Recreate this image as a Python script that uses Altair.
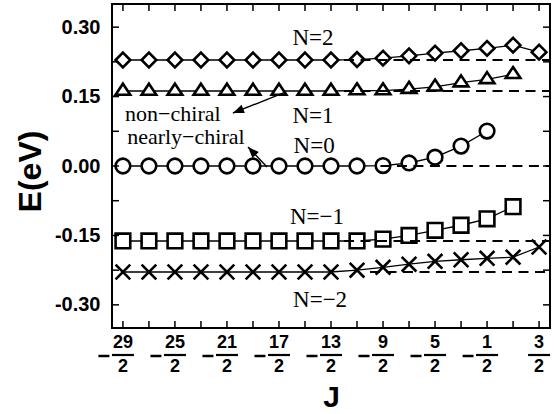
import math
import altair as alt
import pandas as pd

# ---------------- data ----------------
J_VALUES = [-14.5, -13.5, -12.5, -11.5, -10.5, -9.5, -8.5, -7.5, -6.5,
            -5.5, -4.5, -3.5, -2.5, -1.5, -0.5, 0.5, 1.5]

E_N2 = [0.229, 0.229, 0.229, 0.229, 0.229, 0.229, 0.229, 0.229, 0.229,
        0.230, 0.233, 0.238, 0.244, 0.249, 0.254, 0.261, 0.246]
E_N1 = [0.162, 0.162, 0.162, 0.162, 0.162, 0.162, 0.162, 0.162, 0.162,
        0.163, 0.163, 0.166, 0.171, 0.180, 0.187, 0.198]
E_N0 = [0.000, 0.000, 0.000, 0.000, 0.000, 0.000, 0.000, 0.000, 0.000,
        0.000, 0.001, 0.0065, 0.019, 0.043, 0.0755]
E_NM1 = [-0.162, -0.162, -0.162, -0.162, -0.162, -0.162, -0.162, -0.162, -0.162,
         -0.162, -0.158, -0.150, -0.139, -0.128, -0.114, -0.088]
E_NM2 = [-0.229, -0.229, -0.229, -0.229, -0.229, -0.229, -0.229, -0.229, -0.229,
         -0.225, -0.219, -0.212, -0.206, -0.2025, -0.1995, -0.197, -0.175]

SERIES = ["N=2", "N=1", "N=0", "N=-1", "N=-2"]
SERIES_VALUES = [E_N2, E_N1, E_N0, E_NM1, E_NM2]
SHAPES = ["diamond", "M0,-1L1,0.5L-1,0.5Z", "circle", "square", "M-1,-1L1,1M-1,1L1,-1"]
SIZES = [215, 215, 120, 92, 165]

# dashed reference levels
REF_E = [0.229, 0.162, 0.0, -0.162, -0.229]
REF_START = [-6.0, -6.0, -4.6, -6.0, -5.0]

# level labels
LAB_TEXT = ["N=2", "N=1", "N=0", "N=\u22121", "N=\u22122"]
LAB_J = [-7.19, -7.19, -7.15, -7.04, -6.92]
LAB_E = [0.276, 0.108, 0.043, -0.111, -0.289]

# annotations
ANN_TEXT = ["non\u2212chiral", "nearly\u2212chiral"]
ANN_J = [-12.58, -12.08]
ANN_E = [0.112, 0.063]
ARR_TAIL_J = [-8.23, -8.96]
ARR_TAIL_E = [0.160, -0.002]
ARR_HEAD_J = [-10.27, -9.69]
ARR_HEAD_E = [0.1145, 0.041]

# axis ticks / labels
X_TICKS = J_VALUES
Y_TICKS = [-0.30, -0.225, -0.15, -0.075, 0.0, 0.075, 0.15, 0.225, 0.30]
Y_LABELS = [-0.30, -0.15, 0.0, 0.15, 0.30]
FRAC_J = [-14.5, -12.5, -10.5, -8.5, -6.5, -4.5, -2.5, -0.5, 1.5]
FRAC_NUM = ["29", "25", "21", "17", "13", "9", "5", "1", "3"]
FRAC_DEN = ["2", "2", "2", "2", "2", "2", "2", "2", "2"]
FRAC_NEG = [True, True, True, True, True, True, True, True, False]

# ---------------- layout ----------------
XMIN, XMAX = -14.92, 1.92
YMIN, YMAX = -0.35, 0.35
W, H = 438, 324
TICK = 7

rows = []
for name, vals in zip(SERIES, SERIES_VALUES):
    for j, e in zip(J_VALUES, vals):
        rows.append({"series": name, "J": j, "E": e})
df = pd.DataFrame(rows)

df_ref = pd.DataFrame({"E": REF_E, "J": REF_START, "J2": [XMAX] * len(REF_E)})
df_lab = pd.DataFrame({"t": LAB_TEXT, "J": LAB_J, "E": LAB_E})
df_ann = pd.DataFrame({"t": ANN_TEXT, "J": ANN_J, "E": ANN_E})

sx = W / (XMAX - XMIN)
sy = H / (YMAX - YMIN)
angles = []
for tj, te, hj, he in zip(ARR_TAIL_J, ARR_TAIL_E, ARR_HEAD_J, ARR_HEAD_E):
    dx = (hj - tj) * sx
    dy = -(he - te) * sy
    angles.append(math.degrees(math.atan2(dx, -dy)) % 360)
df_arr = pd.DataFrame({"J": ARR_TAIL_J, "E": ARR_TAIL_E, "J2": ARR_HEAD_J,
                       "E2": ARR_HEAD_E, "ang": angles})

df_xt = pd.DataFrame({"J": X_TICKS})
df_yt = pd.DataFrame({"E": Y_TICKS})
df_frac = pd.DataFrame({"J": FRAC_J, "num": FRAC_NUM, "den": FRAC_DEN, "neg": FRAC_NEG})

XS = alt.Scale(domain=[XMIN, XMAX], nice=False, zero=False)
YS = alt.Scale(domain=[YMIN, YMAX], nice=False, zero=False)
XAXIS = alt.Axis(labels=False, ticks=False, domain=False, grid=False, title="J",
                 titleFont="Liberation Sans", titleFontSize=30, titleFontWeight="bold",
                 titleColor="black", titleY=69, titleBaseline="middle")
YAXIS = alt.Axis(values=Y_LABELS, ticks=False, domain=False, grid=False,
                 labelExpr="(datum.value < -0.0001 ? '-' : '') + format(abs(datum.value), '.2f')",
                 labelFont="Liberation Sans", labelFontSize=20, labelFontWeight="bold",
                 labelColor="black", labelPadding=12,
                 title="E(eV)", titleFont="Liberation Sans", titleFontSize=32,
                 titleFontWeight="bold", titleColor="black", titleAngle=270,
                 titleX=-82, titleY=H / 2 + 5, titleBaseline="middle", titleAlign="center")


def X(f="J"):
    return alt.X(f, type="quantitative", scale=XS, axis=XAXIS)


def Y(f="E"):
    return alt.Y(f, type="quantitative", scale=YS, axis=YAXIS)


lines = alt.Chart(df).mark_line(color="black", strokeWidth=1.3).encode(
    x=X(), y=Y(), detail="series:N", order="J:Q")

points = alt.Chart(df).mark_point(fill="white", stroke="black", strokeWidth=2.6,
                                  fillOpacity=1, strokeOpacity=1, opacity=1).encode(
    x=X(), y=Y(),
    shape=alt.Shape("series:N", scale=alt.Scale(domain=SERIES, range=SHAPES), legend=None),
    size=alt.Size("series:O", scale=alt.Scale(domain=SERIES, range=SIZES), legend=None))

dashed = alt.Chart(df_ref).mark_rule(color="black", strokeWidth=2, strokeDash=[10, 6.5]).encode(
    x=X(), x2="J2:Q", y=Y())

labels = alt.Chart(df_lab).mark_text(font="Liberation Serif", fontSize=23, color="black",
                                     baseline="middle").encode(x=X(), y=Y(), text="t:N")

ann = alt.Chart(df_ann).mark_text(font="Liberation Serif", fontSize=22, color="black",
                                  baseline="middle").encode(x=X(), y=Y(), text="t:N")

arr_line = alt.Chart(df_arr).mark_rule(color="black", strokeWidth=1.4).encode(
    x=X(), y=Y(), x2="J2:Q", y2="E2:Q")
arr_head = alt.Chart(df_arr).mark_point(shape="M0,0L-0.8,2L0.8,2Z", filled=True, color="black",
                                        opacity=1, size=121).encode(
    x=X("J2"), y=Y("E2"), angle=alt.Angle("ang:Q", scale=None))

tick_l = alt.Chart(df_yt).mark_rule(color="black", strokeWidth=1.5).encode(
    y=Y(), x=alt.value(0), x2=alt.value(TICK))
tick_r = alt.Chart(df_yt).mark_rule(color="black", strokeWidth=1.5).encode(
    y=Y(), x=alt.value(W), x2=alt.value(W - TICK))
tick_b = alt.Chart(df_xt).mark_rule(color="black", strokeWidth=1.5).encode(
    x=X(), y=alt.value(H), y2=alt.value(H - TICK))
tick_t = alt.Chart(df_xt).mark_rule(color="black", strokeWidth=1.5).encode(
    x=X(), y=alt.value(0), y2=alt.value(TICK))

frac_num = alt.Chart(df_frac).mark_text(font="Liberation Sans", fontWeight="bold", fontSize=18,
                                        color="black", baseline="middle").encode(
    x=X(), y=alt.value(H + 15), text="num:N")
frac_den = alt.Chart(df_frac).mark_text(font="Liberation Sans", fontWeight="bold", fontSize=18,
                                        color="black", baseline="middle").encode(
    x=X(), y=alt.value(H + 39), text="den:N")
frac_bar = alt.Chart(df_frac).mark_tick(orient="horizontal", size=22, thickness=2.2,
                                        color="black", opacity=1).encode(
    x=X(), y=alt.value(H + 27))
frac_minus = alt.Chart(df_frac).transform_filter("datum.neg").mark_tick(
    orient="horizontal", size=11, thickness=2.5, xOffset=-19, color="black", opacity=1).encode(
    x=X(), y=alt.value(H + 28))

chart = alt.layer(
    lines, points, dashed, labels, ann, arr_line, arr_head,
    tick_l, tick_r, tick_b, tick_t, frac_num, frac_den, frac_bar, frac_minus
).properties(
    width=W, height=H,
    autosize=alt.AutoSizeParams(type="none"),
    padding={"left": 112, "top": 4, "right": 4, "bottom": 86},
    background="white",
).configure_view(stroke="black", strokeWidth=2)

chart.save("out.html", embed_options={"renderer": "svg", "actions": False})
